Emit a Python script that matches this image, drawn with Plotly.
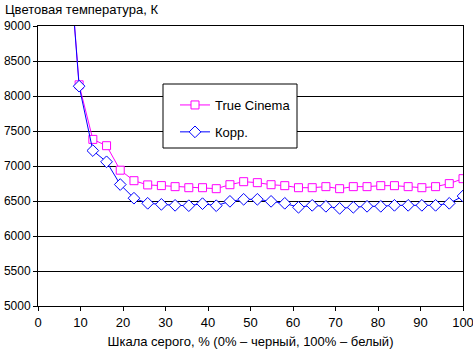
import plotly.graph_objects as go

gray_pct = [6.45, 9.68, 12.9, 16.13, 19.35, 22.58, 25.81, 29.03, 32.26, 35.48,
            38.71, 41.94, 45.16, 48.39, 51.61, 54.84, 58.06, 61.29, 64.52, 67.74,
            70.97, 74.19, 77.42, 80.65, 83.87, 87.1, 90.32, 93.55, 96.77, 100]
true_cinema = [10700, 8160, 7380, 7290, 6940, 6790, 6730, 6720, 6705, 6690,
               6690, 6676, 6733, 6776, 6762, 6733, 6719, 6690, 6690, 6705,
               6676, 6705, 6705, 6719, 6719, 6705, 6690, 6705, 6748, 6819]
korr = [10700, 8140, 7220, 7060, 6735, 6540, 6467, 6452, 6438, 6433,
        6462, 6433, 6495, 6524, 6524, 6495, 6467, 6410, 6438, 6424,
        6395, 6410, 6424, 6424, 6438, 6438, 6438, 6438, 6467, 6571]

FONT = "Liberation Sans, Arial, sans-serif"
FS = 13
W, H = 473, 349
ML, MR, MT, MB = 38, 10, 26, 43
PW, PH = W - ML - MR, H - MT - MB


def px_x(p):
    return (p - ML) / PW


def px_y(p):
    return (H - MB - p) / PH


fig = go.Figure()
fig.add_trace(go.Scatter(
    x=gray_pct, y=true_cinema, name="True Cinema", mode="lines+markers",
    legendgroup="a",
    line=dict(color="#FF00FF", width=1),
    marker=dict(symbol="square", size=8, color="white",
                line=dict(color="#FF00FF", width=1))))
fig.add_trace(go.Scatter(
    x=gray_pct, y=korr, name="Корр.", mode="lines+markers",
    legendgroup="b",
    line=dict(color="#0000FF", width=1),
    marker=dict(symbol="diamond", size=9, color="white",
                line=dict(color="#0000FF", width=1))))

fig.update_layout(
    width=W, height=H,
    margin=dict(l=ML, r=MR, t=MT, b=MB, autoexpand=False),
    paper_bgcolor="white", plot_bgcolor="white",
    font=dict(family=FONT, size=FS, color="black"),
    showlegend=True,
    legend=dict(x=px_x(175), y=px_y(90), xanchor="left", yanchor="top",
                bgcolor="rgba(0,0,0,0)", borderwidth=0,
                font=dict(family=FONT, size=FS, color="black"),
                tracegroupgap=7, itemwidth=30),
    shapes=[dict(type="rect", xref="paper", yref="paper",
                 x0=px_x(163), x1=px_x(297), y0=px_y(148), y1=px_y(84),
                 line=dict(color="black", width=1), fillcolor="white",
                 layer="above")],
    xaxis=dict(range=[0, 100], dtick=10, tick0=0, showgrid=False,
               showline=True, linecolor="black", linewidth=1, mirror=True,
               ticks="outside", ticklen=4, tickcolor="black",
               zeroline=False, automargin=False, ticklabeloverflow="allow",
               title=dict(text="Шкала серого, % (0% – черный, 100% – белый)",
                          standoff=8, font=dict(size=FS))),
    yaxis=dict(range=[5000, 9000], dtick=500, tick0=5000, showgrid=True,
               gridcolor="black", gridwidth=1,
               showline=True, linecolor="black", linewidth=1, mirror=True,
               ticks="outside", ticklen=4, tickcolor="black",
               tickfont=dict(size=12),
               zeroline=False, automargin=False, ticklabeloverflow="allow"),
    annotations=[dict(text="Цветовая температура, К", xref="paper", yref="paper",
                      x=px_x(3), y=px_y(0),
                      xanchor="left", yanchor="top", showarrow=False,
                      font=dict(family=FONT, size=FS, color="black"))],
)

fig.write_html("out.html")
